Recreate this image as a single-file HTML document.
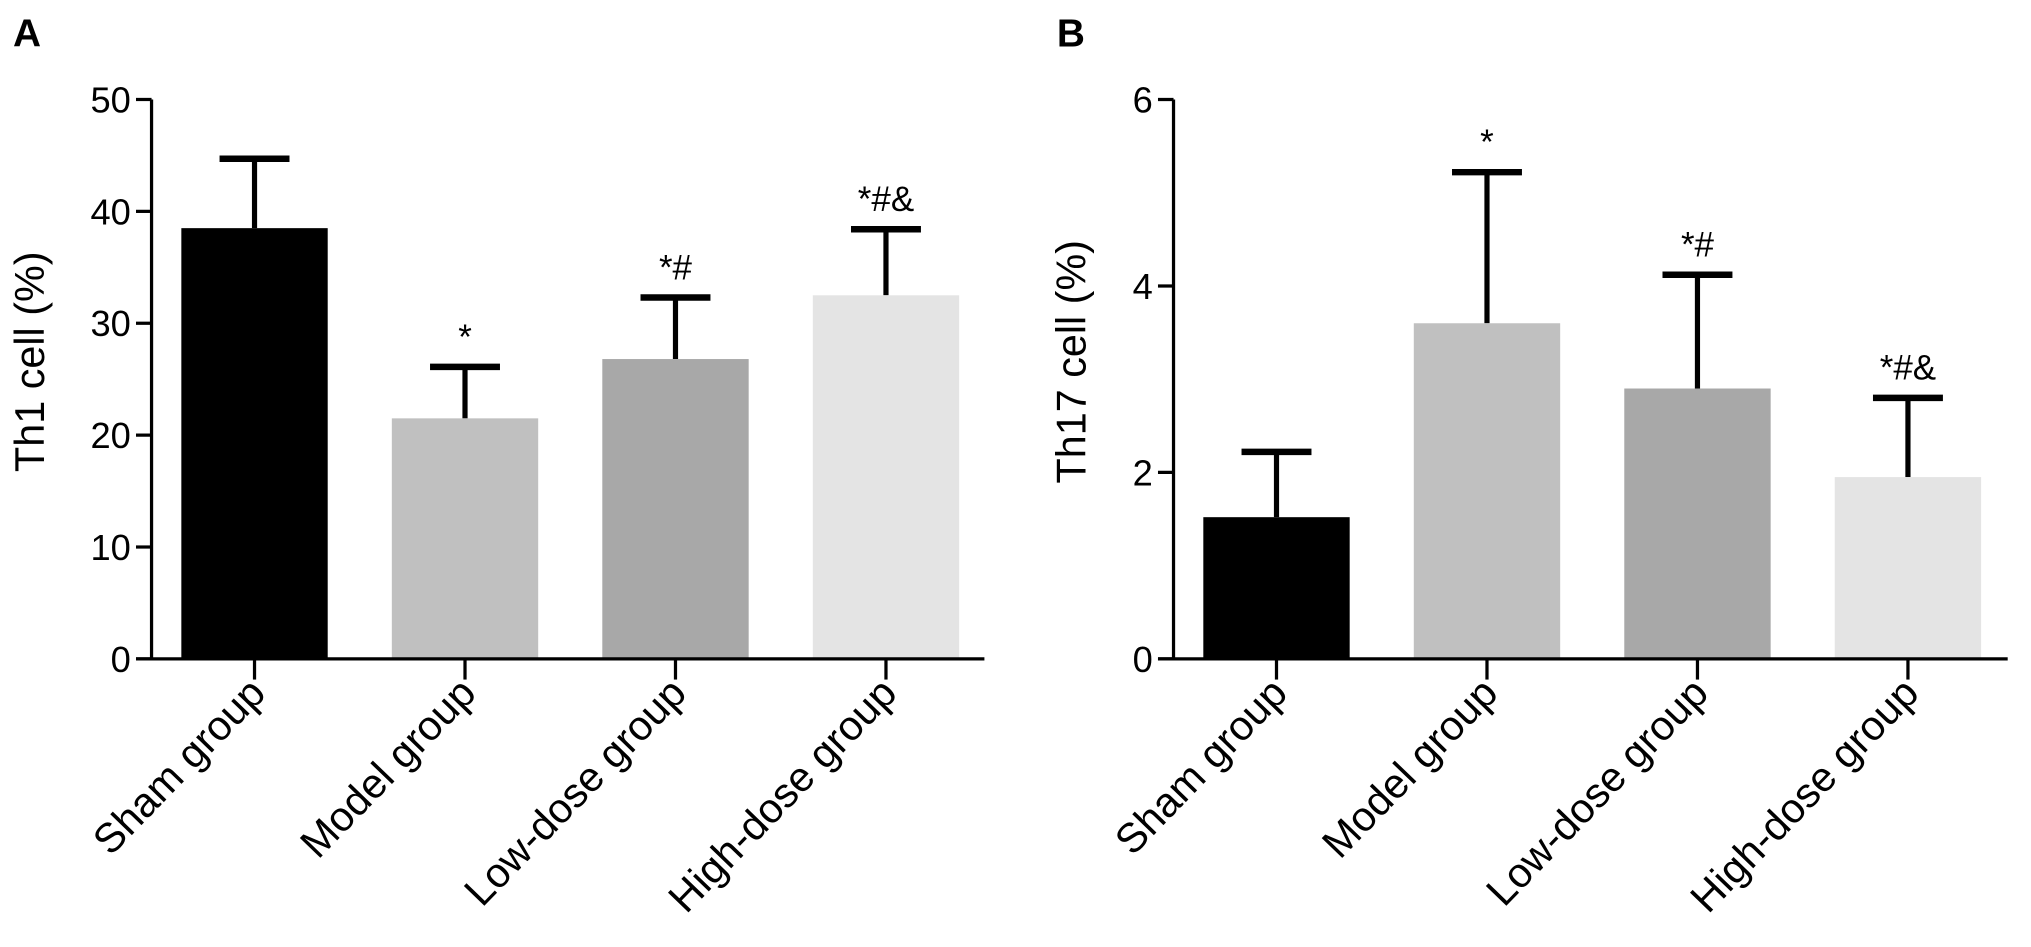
<!DOCTYPE html>
<html><head><meta charset="utf-8"><style>html,body{margin:0;padding:0;background:#fff}svg{display:block}</style></head>
<body>
<svg id="chart" width="2031" height="947" viewBox="0 0 1568 733" preserveAspectRatio="none" xmlns="http://www.w3.org/2000/svg" font-family="Liberation Sans, sans-serif">
<text x="10" y="36" font-size="30" font-weight="bold">A</text>
<text x="816" y="36" font-size="30" font-weight="bold">B</text>
<g id="pa"></g>
<g id="pb"></g>
</svg>
<script>
const categories = ["Sham group","Model group","Low-dose group","High-dose group"];
const colors = ["#000000","#c0c0c0","#a8a8a8","#e4e4e4"];
const th1Values = [38.5, 21.5, 26.8, 32.5];
const th1Errors = [44.7, 26.1, 32.3, 38.4];
const th1Marks = ["", "*", "*#", "*#&"];
const th1Ticks = [0,10,20,30,40,50];
const th17Values = [1.52, 3.6, 2.9, 1.95];
const th17Errors = [2.22, 5.22, 4.12, 2.8];
const th17Marks = ["", "*", "*#", "*#&"];
const th17Ticks = [0,2,4,6];
const NS="http://www.w3.org/2000/svg";
function mk(p,tag,attrs){const e=document.createElementNS(NS,tag);for(const k in attrs)e.setAttribute(k,attrs[k]);p.appendChild(e);return e;}
function draw(g,o){
  const y0=510,y1=77;
  const ys=v=>y0-(v/o.max)*(y0-y1);
  const bw=113,step=162.5;
  const xc=i=>o.ax+23+bw/2+i*step;
  o.vals.forEach((v,i)=>{
    const c=xc(i);
    const eb=mk(g,'line',{x1:c,x2:c,y1:ys(v),y2:ys(o.errs[i]),stroke:'#000','stroke-width':4});
    
    
    const cap=mk(g,'line',{x1:c-27,x2:c+27,y1:ys(o.errs[i]),y2:ys(o.errs[i]),stroke:'#000','stroke-width':5});
    
    
    const r=mk(g,'rect',{x:c-bw/2,y:ys(v),width:bw,height:y0-ys(v),fill:colors[i]});
    
    
    if(o.marks[i]){const t=mk(g,'text',{x:c,y:ys(o.errs[i])-14,'font-size':27,'text-anchor':'middle'});t.textContent=o.marks[i];
      
      }
    const tk=mk(g,'line',{x1:c,x2:c,y1:y0,y2:y0+16,stroke:'#000','stroke-width':2.5});
    
    
    const lx=c+10,ly=y0+28;
    const l=mk(g,'text',{x:lx,y:ly,'font-size':32,'text-anchor':'end',transform:`rotate(-46 ${lx} ${ly})`});
    l.textContent=categories[i];
    
    
  });
  const ya=mk(g,'line',{x1:o.ax,x2:o.ax,y1:y1,y2:y0+1,stroke:'#000','stroke-width':2.5});
  
  
  const xa=mk(g,'line',{x1:o.ax-12,x2:o.xend,y1:y0,y2:y0,stroke:'#000','stroke-width':2.5});
  
  
  o.ticks.forEach(t=>{
    const y=ys(t);
    const l=mk(g,'line',{x1:o.ax-12,x2:o.ax,y1:y,y2:y,stroke:'#000','stroke-width':2.5});
    
    
    const tx=mk(g,'text',{x:o.ax-16,y:y+10,'font-size':28,'text-anchor':'end'});tx.textContent=t;
    
    
  });
  const tt=mk(g,'text',{x:o.tx,y:280,'font-size':32,'text-anchor':'middle',transform:`rotate(-90 ${o.tx} 280)`});tt.textContent=o.title;
  
  
}
draw(document.getElementById('pa'),{ax:117,xend:760,max:50,vals:th1Values,errs:th1Errors,marks:th1Marks,ticks:th1Ticks,title:'Th1 cell (%)',tx:34});
draw(document.getElementById('pb'),{ax:906,xend:1550,max:6,vals:th17Values,errs:th17Errors,marks:th17Marks,ticks:th17Ticks,title:'Th17 cell (%)',tx:838});
</script>
</body></html>
